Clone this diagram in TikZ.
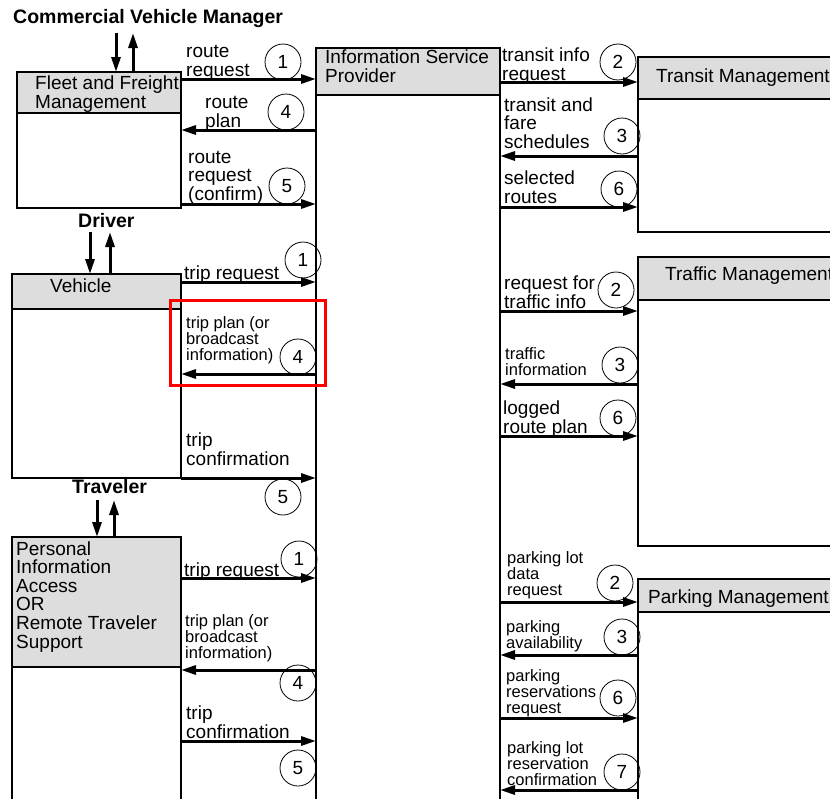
\documentclass[tikz,border=0pt]{standalone}
\usepackage{fontspec}
\setmainfont{Liberation Sans}
\usetikzlibrary{arrows.meta}
\definecolor{headgray}{RGB}{221,221,221}

\begin{document}
\begin{tikzpicture}[x=1pt, y=-1pt,
  box/.style={draw, line width=1.2pt, inner sep=0pt, outer sep=0pt, anchor=north west},
  head/.style={box, fill=headgray},
  boxtext/.style={anchor=base west, inner sep=0pt, align=left, font=\fontsize{19}{18.6}\selectfont},
  actor/.style={anchor=base west, inner sep=0pt, font=\fontsize{19.5}{20}\selectfont\bfseries},
  flowtext/.style={anchor=base west, inner sep=0pt, align=left, font=\fontsize{19}{18.5}\selectfont},
  smalltext/.style={anchor=base west, inner sep=0pt, align=left, font=\fontsize{16.5}{16}\selectfont},
  num/.style={circle, draw, line width=0.8pt, minimum size=36pt, inner sep=0pt, font=\fontsize{19}{19}\selectfont},
  flow/.style={line width=3pt, -{Triangle[length=15pt,width=9pt]}},
  hilite/.style={draw=red, line width=3pt}]
%%% ISP interfaces %%%

      \useasboundingbox (0,0) rectangle (830,798);
      \clip (0,0) rectangle (830,798);

      %% terminators
      \node[actor] (cvm) at (13,23) {Commercial Vehicle Manager};
      \node[actor] (driver) at (78,227) {Driver};
      \node[actor] (traveler) at (72,493) {Traveler};
      \coordinate (cvmdown) at (116,33);
      \coordinate (cvmup) at (133,33);
      \coordinate (drvdown) at (90,232);
      \coordinate (drvup) at (110,232);
      \coordinate (trvdown) at (97,500);
      \coordinate (trvup) at (114,500);

      %% left boxes
      \node[box, minimum width=164pt, minimum height=136pt] (fleet) at (17,72) {};
      \node[head, minimum width=164pt, minimum height=41pt] (fleethead) at (17,72) {};
      \node[boxtext] (fleettxt) at (35,108) {Fleet and Freight\\Management};

      \node[box, minimum width=169pt, minimum height=204pt] (vehicle) at (12,274) {};
      \node[head, minimum width=169pt, minimum height=35pt] (vehiclehead) at (12,274) {};
      \node[boxtext] (vehicletxt) at (50,292) {Vehicle};

      \node[box, minimum width=169pt, minimum height=300pt] (pia) at (12,537) {};
      \node[head, minimum width=169pt, minimum height=130pt] (piahead) at (12,537) {};
      \node[boxtext] (piatxt) at (16,648) {Personal\\Information\\Access\\OR\\Remote Traveler\\Support};

      %% middle box
      \node[box, minimum width=184pt, minimum height=800pt] (isp) at (316,48) {};
      \node[head, minimum width=184pt, minimum height=47pt] (isphead) at (316,48) {};
      \node[boxtext] (isptxt) at (325,82) {Information Service\\Provider};

      %% right boxes
      \node[box, minimum width=230pt, minimum height=175pt] (transit) at (638,57) {};
      \node[head, minimum width=230pt, minimum height=42pt] (transithead) at (638,57) {};
      \node[boxtext] (transittxt) at (656,82) {Transit Management};

      \node[box, minimum width=230pt, minimum height=289pt] (traffic) at (638,257) {};
      \node[head, minimum width=230pt, minimum height=43pt] (traffichead) at (638,257) {};
      \node[boxtext] (traffictxt) at (665,280) {Traffic Management};

      \node[box, minimum width=230pt, minimum height=300pt] (parking) at (638,579) {};
      \node[head, minimum width=230pt, minimum height=33pt] (parkinghead) at (638,579) {};
      \node[boxtext] (parkingtxt) at (648,603) {Parking Management};

      %% terminator flows
      \draw[flow] (cvmdown) -- (cvmdown |- fleet.north);
      \draw[flow] (cvmup |- fleet.north) -- (cvmup);
      \draw[flow] (drvdown) -- (drvdown |- vehicle.north);
      \draw[flow] (drvup |- vehicle.north) -- (drvup);
      \draw[flow] (trvdown) -- (trvdown |- pia.north);
      \draw[flow] (trvup |- pia.north) -- (trvup);

      %% fleet and freight
      \node[flowtext] (fleetreqtxt) at (186,76) {route\\request};
      \node[num] (fleetreqnum) at (283,62) {1};
      \draw[flow] (fleet.east |- 0,79) -- (isp.west |- 0,79);
      \node[flowtext] (fleetplantxt) at (205,127) {route\\plan};
      \node[num] (fleetplannum) at (286,112) {4};
      \draw[flow] (isp.west |- 0,130) -- (fleet.east |- 0,130);
      \node[flowtext] (fleetconftxt) at (188,200) {route\\request\\(confirm)};
      \node[num] (fleetconfnum) at (287,186) {5};
      \draw[flow] (fleet.east |- 0,204) -- (isp.west |- 0,204);

      %% vehicle
      \node[flowtext] (vehreqtxt) at (184,279) {trip request};
      \node[num] (vehreqnum) at (303,260) {1};
      \draw[flow] (vehicle.east |- 0,282) -- (isp.west |- 0,282);
      \node[smalltext] (vehplantxt) at (186,360) {trip plan (or\\broadcast\\information)};
      \node[num] (vehplannum) at (298,357) {4};
      \draw[flow] (isp.west |- 0,374) -- (vehicle.east |- 0,374);
      \node[flowtext] (vehconftxt) at (186,465) {trip\\confirmation};
      \node[num] (vehconfnum) at (283,497) {5};
      \draw[flow] (vehicle.east |- 0,478) -- (isp.west |- 0,478);
      \draw[hilite] (170,300) rectangle (325,385);

      %% personal information access
      \node[flowtext] (piareqtxt) at (184,576) {trip request};
      \node[num] (piareqnum) at (299,559) {1};
      \draw[flow] (pia.east |- 0,578) -- (isp.west |- 0,578);
      \node[smalltext] (piaplantxt) at (185,658) {trip plan (or\\broadcast\\information)};
      \node[num] (piaplannum) at (298,683) {4};
      \draw[flow] (isp.west |- 0,670) -- (pia.east |- 0,670);
      \node[flowtext] (piaconftxt) at (186,738) {trip\\confirmation};
      \node[num] (piaconfnum) at (298,768) {5};
      \draw[flow] (pia.east |- 0,741) -- (isp.west |- 0,741);

      %% transit management
      \node[flowtext] (trreqtxt) at (502,80) {transit info\\request};
      \node[num] (trreqnum) at (618,62) {2};
      \draw[flow] (isp.east |- 0,82) -- (transit.west |- 0,82);
      \node[flowtext] (trschedtxt) at (504,148) {transit and\\fare\\schedules};
      \node[num] (trschednum) at (622,136) {3};
      \draw[flow] (transit.west |- 0,156) -- (isp.east |- 0,156);
      \node[flowtext] (trseltxt) at (504,203) {selected\\routes};
      \node[num] (trselnum) at (619,189) {6};
      \draw[flow] (isp.east |- 0,207) -- (transit.west |- 0,207);

      %% traffic management
      \node[flowtext] (tfreqtxt) at (504,308) {request for\\traffic info};
      \node[num] (tfreqnum) at (616,290) {2};
      \draw[flow] (isp.east |- 0,311) -- (traffic.west |- 0,311);
      \node[smalltext] (tfinfotxt) at (505,375) {traffic\\information};
      \node[num] (tfinfonum) at (620,365) {3};
      \draw[flow] (traffic.west |- 0,384) -- (isp.east |- 0,384);
      \node[flowtext] (tflogtxt) at (503,433) {logged\\route plan};
      \node[num] (tflognum) at (618,418) {6};
      \draw[flow] (isp.east |- 0,436) -- (traffic.west |- 0,436);

      %% parking management
      \node[smalltext] (pkreqtxt) at (507,595) {parking lot\\data\\request};
      \node[num] (pkreqnum) at (615,583) {2};
      \draw[flow] (isp.east |- 0,602) -- (parking.west |- 0,602);
      \node[smalltext] (pkavailtxt) at (506,648) {parking\\availability};
      \node[num] (pkavailnum) at (622,637) {3};
      \draw[flow] (parking.west |- 0,655) -- (isp.east |- 0,655);
      \node[smalltext] (pkrestxt) at (506,713) {parking\\reservations\\request};
      \node[num] (pkresnum) at (618,698) {6};
      \draw[flow] (isp.east |- 0,718) -- (parking.west |- 0,718);
      \node[smalltext] (pkconftxt) at (507,785) {parking lot\\reservation\\confirmation};
      \node[num] (pkconfnum) at (622,772) {7};
      \draw[flow] (parking.west |- 0,790) -- (isp.east |- 0,790);

\end{tikzpicture}
\end{document}
